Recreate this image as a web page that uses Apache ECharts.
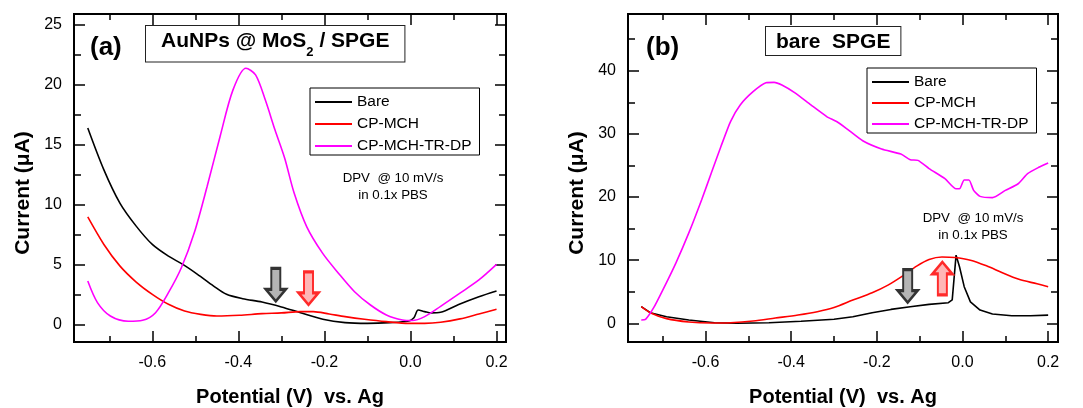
<!DOCTYPE html>
<html>
<head>
<meta charset="utf-8">
<script src="https://cdn.jsdelivr.net/npm/echarts@6/dist/echarts.min.js"></script>
<style>
  html, body { margin: 0; padding: 0; background: #fff; }
  #chart { width: 1083px; height: 408px; }
</style>
</head>
<body>
<div id="chart"></div>
<script>
// ---------- tick labels ----------
const xMajor = [-0.6, -0.4, -0.2, 0.0, 0.2];
const xMinor = [-0.7, -0.5, -0.3, -0.1, 0.1];
const yMajorA = [0, 5, 10, 15, 20, 25];
const yMinorA = [2.5, 7.5, 12.5, 17.5, 22.5];
const yMajorB = [0, 10, 20, 30, 40];
const yMinorB = [5, 15, 25, 35, 45];
const seriesNames = ['Bare', 'CP-MCH', 'CP-MCH-TR-DP'];

// ---------- panel (a): AuNPs @ MoS2 / SPGE  [potential V, current uA] ----------
const aBare = [[-0.75,16.4],[-0.7125,12.9],[-0.675,10.1],[-0.6375,8.2],[-0.6,6.67],[-0.5625,5.69],[-0.529,5.0],[-0.495,4.17],[-0.4575,3.19],[-0.4275,2.5],[-0.39,2.14],[-0.345,1.86],[-0.3,1.45],[-0.2556,0.97],[-0.2037,0.42],[-0.152,0.14],[-0.1,0.08],[-0.048,0.14],[-0.004,0.28],[0.008,0.55],[0.018,1.19],[0.033,1.06],[0.048,0.95],[0.07,1.0],[0.112,1.65],[0.159,2.3],[0.2,2.78]];
const aCpMch = [[-0.75,8.97],[-0.7125,6.67],[-0.675,4.86],[-0.6375,3.53],[-0.6,2.5],[-0.5625,1.67],[-0.525,1.11],[-0.4875,0.83],[-0.45,0.69],[-0.3975,0.75],[-0.345,0.89],[-0.3,0.95],[-0.256,1.06],[-0.226,1.06],[-0.189,0.86],[-0.152,0.64],[-0.107,0.42],[-0.056,0.22],[-0.004,0.08],[0.033,0.08],[0.07,0.17],[0.115,0.45],[0.159,0.86],[0.2,1.25]];
const aCpMchTrDp = [[-0.75,3.61],[-0.7275,1.81],[-0.6975,0.69],[-0.656,0.25],[-0.6225,0.33],[-0.5925,0.97],[-0.5625,2.64],[-0.5325,4.72],[-0.5025,7.64],[-0.4725,11.53],[-0.4425,15.69],[-0.4125,19.58],[-0.3825,21.39],[-0.36,20.83],[-0.3375,18.75],[-0.315,16.25],[-0.2925,13.89],[-0.27,10.92],[-0.241,8.14],[-0.204,5.92],[-0.167,4.25],[-0.13,2.72],[-0.093,1.61],[-0.056,0.78],[-0.0185,0.36],[0.004,0.31],[0.033,0.64],[0.07,1.5],[0.115,2.6],[0.159,3.7],[0.2,5.0]];

// ---------- panel (b): bare SPGE ----------
const bBare = [[-0.75,2.63],[-0.729,1.68],[-0.691,1.05],[-0.639,0.53],[-0.579,0.1],[-0.527,0.0],[-0.452,0.1],[-0.377,0.32],[-0.3,0.65],[-0.256,1.05],[-0.211,1.68],[-0.167,2.2],[-0.122,2.63],[-0.078,3.0],[-0.033,3.26],[-0.024,3.7],[-0.015,10.8],[-0.007,8.95],[0.004,5.8],[0.0185,3.4],[0.041,2.1],[0.07,1.47],[0.115,1.2],[0.159,1.2],[0.2,1.3]];
const bCpMch = [[-0.75,2.63],[-0.729,1.68],[-0.691,0.74],[-0.639,0.21],[-0.5865,0.05],[-0.5416,0.1],[-0.489,0.37],[-0.437,0.84],[-0.384,1.32],[-0.339,1.84],[-0.3,2.5],[-0.256,3.68],[-0.211,4.84],[-0.174,6.05],[-0.137,7.63],[-0.107,9.05],[-0.078,10.1],[-0.048,10.5],[-0.0185,10.42],[0.0185,10.0],[0.056,9.1],[0.093,8.0],[0.13,7.0],[0.174,6.25],[0.2,5.8]];
const bCpMchTrDp = [[-0.75,0.53],[-0.74,0.63],[-0.721,2.47],[-0.699,5.37],[-0.669,9.58],[-0.639,14.32],[-0.609,19.58],[-0.5865,23.79],[-0.564,28.0],[-0.5416,31.95],[-0.519,34.58],[-0.489,36.68],[-0.459,38.1],[-0.44,38.16],[-0.4217,37.74],[-0.392,36.53],[-0.354,34.58],[-0.317,32.74],[-0.294,31.95],[-0.27,30.8],[-0.233,28.9],[-0.189,27.6],[-0.144,26.8],[-0.122,25.9],[-0.104,25.8],[-0.078,24.5],[-0.041,22.9],[-0.015,21.3],[-0.007,21.3],[0.004,22.7],[0.015,22.7],[0.026,21.05],[0.041,20.1],[0.07,19.9],[0.1,21.05],[0.13,22.1],[0.152,23.7],[0.178,24.7],[0.2,25.4]];

// arrow annotations (position in data units)
const arrowsA = [{at: [-0.313, 3.3], dir: 'down', kind: 'gray'}, {at: [-0.237, 3.0], dir: 'down', kind: 'red'}];
const arrowsB = [{at: [-0.128, 5.9], dir: 'down', kind: 'gray'}, {at: [-0.047, 7.1], dir: 'up', kind: 'red'}];

const FONT = 'Liberation Sans, Arial, Helvetica, sans-serif';
const colors = ['#000000', '#ff0000', '#ff00ff'];
const DOWN = 'path://M5.5,0 L14.5,0 L14.5,21 L20,21 L10,33 L0,21 L5.5,21 Z';
const UP = 'path://M10,0 L20,12 L14.5,12 L14.5,33 L5.5,33 L5.5,12 L0,12 Z';

function arrowMarks(list) {
  return list.map(a => ({
    coord: a.at,
    symbol: a.dir === 'down' ? DOWN : UP,
    symbolSize: [20, 33],
    itemStyle: a.kind === 'gray'
      ? {color: '#b4b4b4', borderColor: '#333333', borderWidth: 2.5}
      : {color: '#ffb6b6', borderColor: '#ff2a2a', borderWidth: 2.5}
  }));
}

function xAxes(grid, min, max) {
  const base = {gridIndex: grid, type: 'value', min: min, max: max, splitLine: {show: false},
    axisLine: {show: true, onZero: false, lineStyle: {color: '#000', width: 2}}};
  return [
    Object.assign({}, base, {position: 'bottom',
      axisTick: {show: true, inside: true, length: 11, customValues: xMajor, lineStyle: {color: '#000', width: 1.5}},
      axisLabel: {show: true, customValues: xMajor, formatter: v => v.toFixed(1), fontFamily: FONT, fontSize: 16, color: '#000', margin: 13},
      name: 'Potential (V)  vs. Ag', nameLocation: 'middle', nameGap: 45,
      nameTextStyle: {fontFamily: FONT, fontSize: 20, fontWeight: 'bold', color: '#000'}}),
    Object.assign({}, base, {position: 'bottom',
      axisTick: {show: true, inside: true, length: 6, customValues: xMinor, lineStyle: {color: '#000', width: 1.5}},
      axisLabel: {show: false}}),
    Object.assign({}, base, {position: 'top',
      axisTick: {show: true, inside: true, length: 11, customValues: xMajor, lineStyle: {color: '#000', width: 1.5}},
      axisLabel: {show: false}}),
    Object.assign({}, base, {position: 'top',
      axisTick: {show: true, inside: true, length: 6, customValues: xMinor, lineStyle: {color: '#000', width: 1.5}},
      axisLabel: {show: false}})
  ];
}

function yAxes(grid, min, max, major, minor, gap) {
  const base = {gridIndex: grid, type: 'value', min: min, max: max, splitLine: {show: false},
    axisLine: {show: true, onZero: false, lineStyle: {color: '#000', width: 2}}};
  return [
    Object.assign({}, base, {position: 'left',
      axisTick: {show: true, inside: true, length: 11, customValues: major, lineStyle: {color: '#000', width: 1.5}},
      axisLabel: {show: true, customValues: major, fontFamily: FONT, fontSize: 16, color: '#000', margin: 12},
      name: 'Current (\u03bcA)', nameLocation: 'middle', nameGap: gap,
      nameTextStyle: {fontFamily: FONT, fontSize: 21, fontWeight: 'bold', color: '#000', padding: [0, 30, 0, 0]}}),
    Object.assign({}, base, {position: 'left',
      axisTick: {show: true, inside: true, length: 7, customValues: minor, lineStyle: {color: '#000', width: 1.5}},
      axisLabel: {show: false}}),
    Object.assign({}, base, {position: 'right',
      axisTick: {show: true, inside: true, length: 11, customValues: major, lineStyle: {color: '#000', width: 1.5}},
      axisLabel: {show: false}}),
    Object.assign({}, base, {position: 'right',
      axisTick: {show: true, inside: true, length: 7, customValues: minor, lineStyle: {color: '#000', width: 1.5}},
      axisLabel: {show: false}})
  ];
}

function lineSeries(name, data, axisIdx, colorIdx, smooth, marks) {
  const s = {name: name, type: 'line', data: data, xAxisIndex: axisIdx, yAxisIndex: axisIdx,
    symbol: 'none', smooth: smooth, color: colors[colorIdx],
    lineStyle: {color: colors[colorIdx], width: 1.6}, z: 3};
  if (marks) s.markPoint = {silent: true, label: {show: false}, animation: false, data: marks, z: 5};
  return s;
}

function legendAt(left, top, gap) {
  return {data: seriesNames, orient: 'vertical', left: left, top: top, icon: 'rect', itemWidth: 37, itemHeight: 1.8, itemGap: gap,
    borderColor: '#000', borderWidth: 1, padding: [6, 8, 1, 5], backgroundColor: '#fff',
    textStyle: {fontFamily: FONT, fontSize: 15.5, color: '#000'}, selectedMode: false};
}

const chart = echarts.init(document.getElementById('chart'), null, {renderer: 'canvas'});
chart.setOption({
  animation: false,
  backgroundColor: '#fff',
  grid: [
    {left: 74, top: 14, width: 432, height: 328, outerBoundsMode: 'none', containLabel: false},
    {left: 628, top: 14, width: 430, height: 328, outerBoundsMode: 'none', containLabel: false}
  ],
  xAxis: xAxes(0, -0.782, 0.222).concat(xAxes(1, -0.781, 0.223)),
  yAxis: yAxes(0, -1.48, 25.92, yMajorA, yMinorA, 40).concat(yAxes(1, -2.96, 48.98, yMajorB, yMinorB, 40)),
  legend: [legendAt(310, 88, 6), legendAt(867, 68, 5)],
  series: [
    lineSeries(seriesNames[0], aBare, 0, 0, 0.3, arrowMarks([arrowsA[0]])),
    lineSeries(seriesNames[1], aCpMch, 0, 1, 0.3, arrowMarks([arrowsA[1]])),
    lineSeries(seriesNames[2], aCpMchTrDp, 0, 2, 0.3),
    lineSeries(seriesNames[0], bBare, 4, 0, false, arrowMarks([arrowsB[0]])),
    lineSeries(seriesNames[1], bCpMch, 4, 1, 0.3, arrowMarks([arrowsB[1]])),
    lineSeries(seriesNames[2], bCpMchTrDp, 4, 2, 0.2)
  ],
  graphic: [
    {type: 'text', x: 90, y: 47.5, z: 10, style: {text: '(a)', font: 'bold 26px ' + FONT, fill: '#000', align: 'left', verticalAlign: 'middle'}},
    {type: 'text', x: 646, y: 47.5, z: 10, style: {text: '(b)', font: 'bold 26px ' + FONT, fill: '#000', align: 'left', verticalAlign: 'middle'}},
    {type: 'text', x: 146, y: 26, z: 10, style: {
      text: '{b|AuNPs @ MoS}{s|2}{b| / SPGE}',
      rich: {
        b: {font: 'bold 21px ' + FONT, lineHeight: 27.5, verticalAlign: 'top', fill: '#000'},
        s: {font: 'bold 13px ' + FONT, lineHeight: 27.5, verticalAlign: 'bottom', fill: '#000'}
      },
      align: 'left', verticalAlign: 'top', backgroundColor: '#fff', borderColor: '#222', borderWidth: 1, padding: [5, 15, 3, 15]}},
    {type: 'text', x: 766, y: 27, z: 10, style: {
      text: 'bare  SPGE', font: 'bold 21px ' + FONT, fill: '#000', lineHeight: 24,
      align: 'left', verticalAlign: 'top', backgroundColor: '#fff', borderColor: '#222', borderWidth: 1, padding: [3, 10, 1, 10]}},
    {type: 'text', x: 393, y: 170, z: 10, style: {text: 'DPV  @ 10 mV/s\nin 0.1x PBS', font: '13.3px ' + FONT, lineHeight: 17, fill: '#000', align: 'center', verticalAlign: 'top'}},
    {type: 'text', x: 973, y: 210, z: 10, style: {text: 'DPV  @ 10 mV/s\nin 0.1x PBS', font: '13.3px ' + FONT, lineHeight: 17, fill: '#000', align: 'center', verticalAlign: 'top'}}
  ]
});
</script>
</body>
</html>
